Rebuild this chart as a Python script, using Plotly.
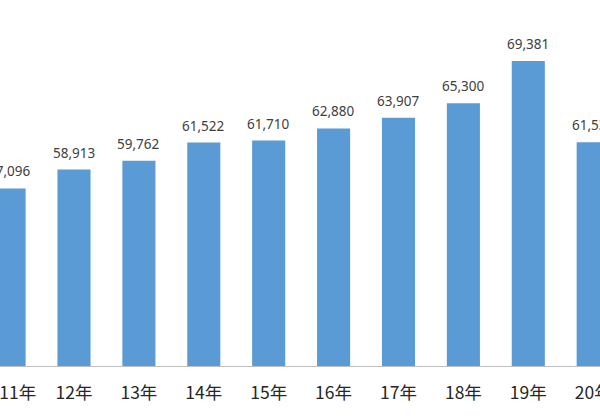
import plotly.graph_objects as go

years = ["11年", "12年", "13年", "14年", "15年", "16年", "17年", "18年", "19年", "20年"]
values = [57096, 58913, 59762, 61522, 61710, 62880, 63907, 65300, 69381, 61539]
labels = ["57,096", "58,913", "59,762", "61,522", "61,710", "62,880", "63,907", "65,300", "69,381", "61,539"]

# first tick label is nudged right (as in the cropped original) so it stays readable
tick_text = ["\u2002\u2002" + years[0]] + years[1:]

fig = go.Figure()
fig.add_trace(go.Bar(
    x=list(range(len(years))), y=values,
    marker=dict(color="#5B9BD5", line=dict(width=0)),
    width=0.51,
    hoverinfo="skip",
))

for i, (v, t) in enumerate(zip(values, labels)):
    fig.add_annotation(x=i, y=v, text=t, showarrow=False, yanchor="bottom",
                       yshift=6, font=dict(size=13.5, color="#404040",
                                           family="Noto Sans, Noto Sans CJK JP"))

fig.update_layout(
    width=600, height=420,
    margin=dict(l=0, r=0, t=0, b=54, autoexpand=False),
    paper_bgcolor="white", plot_bgcolor="white",
    showlegend=False,
    font=dict(family="Noto Sans CJK JP, Noto Sans", color="#404040"),
)
fig.update_xaxes(
    range=[-0.140, 9.105],
    tickmode="array", tickvals=list(range(len(years))), ticktext=tick_text,
    tickfont=dict(size=17.5, color="#262626"),
    showline=True, linecolor="#BFBFBF", linewidth=1,
    showgrid=False, zeroline=False, ticks="",
    ticklabelstandoff=11,
    ticklabeloverflow="allow",
    automargin=False,
)
fig.update_yaxes(
    range=[40000, 40000 + 366 * 96.3],
    visible=False, showgrid=False, zeroline=False, automargin=False,
)

fig.write_html("out.html", config={"displayModeBar": False},
               post_script="document.body.style.margin='0';")
